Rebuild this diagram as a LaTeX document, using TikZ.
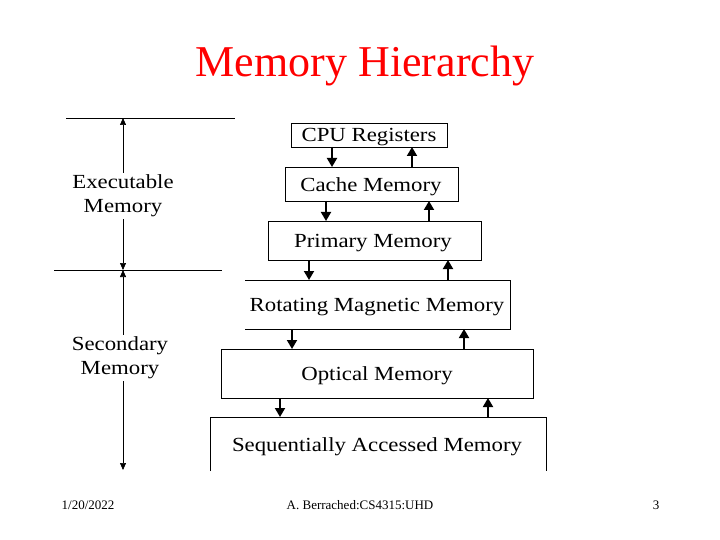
\documentclass[tikz,border=0pt]{standalone}
\usepackage{fontspec}
\setmainfont{Liberation Serif}
\newfontfamily\wideserif[FakeStretch=1.14]{Liberation Serif}
\usetikzlibrary{arrows.meta}
\begin{document}
\begin{tikzpicture}[x=1pt,y=-1pt,
  box/.style={draw,line width=0.8pt},
  lbl/.style={font=\wideserif\fontsize{20}{24}\selectfont,yshift=-2pt},
  flow/.style={-{Triangle[length=9pt,width=10pt]},line width=1.8pt},
  tip/.style={line width=0.6pt,-{Triangle[length=7pt,width=6pt]}},
  foot/.style={font=\fontsize{13}{15}\selectfont}]
\useasboundingbox (0,0) rectangle (720,540);
\node[text=red,font=\fontsize{44}{48}\selectfont] (title) at (365,66) {Memory Hierarchy};
% boxes
\draw[box] (291,123) rectangle (447,147);
\node[lbl] (cpu) at (369,135) {CPU Registers};
\draw[box] (285,167) rectangle (458,201);
\node[lbl] (cache) at (371,185) {Cache Memory};
\draw[box] (268,221) rectangle (481,260);
\node[lbl] (prim) at (373,241) {Primary Memory};
\draw[box] (245,280) -- (510,280) -- (510,329) -- (245,329);
\node[lbl] (rot) at (377,305) {Rotating Magnetic Memory};
\draw[box] (221,349) rectangle (533,398);
\node[lbl] (opt) at (377,374) {Optical Memory};
\draw[box] (210,471) -- (210,417) -- (546,417) -- (546,471);
\node[lbl] (seq) at (377,445) {Sequentially Accessed Memory};
% flows
\coordinate (a1) at (332,147); \coordinate (a2) at (332,167);
\coordinate (b1) at (412,167); \coordinate (b2) at (412,147);
\coordinate (c1) at (326,201); \coordinate (c2) at (326,221);
\coordinate (d1) at (429,221); \coordinate (d2) at (429,201);
\coordinate (e1) at (309,260); \coordinate (e2) at (309,280);
\coordinate (f1) at (448,280); \coordinate (f2) at (448,260);
\coordinate (g1) at (292,329); \coordinate (g2) at (292,349);
\coordinate (h1) at (464,349); \coordinate (h2) at (464,329);
\coordinate (i1) at (280,398); \coordinate (i2) at (280,417);
\coordinate (j1) at (488,417); \coordinate (j2) at (488,398);
\foreach \p in {a,b,c,d,e,f,g,h,i,j} \draw[flow] (\p1) -- (\p2);
% left dimension
\coordinate (l1a) at (66,118); \coordinate (l1b) at (235,118);
\coordinate (l2a) at (54,270); \coordinate (l2b) at (222,270);
\draw[line width=0.6pt] (l1a) -- (l1b);
\draw[line width=0.6pt] (l2a) -- (l2b);
\coordinate (t1) at (123,118); \coordinate (t2) at (123,270); \coordinate (t3) at (123,470);
\node[lbl,fill=white,align=center,inner sep=2pt] (exe) at (123,194) {Executable\\Memory};
\node[lbl,fill=white,align=center,inner sep=2pt] (sec) at (120,356) {Secondary\\Memory};
\draw[tip] (exe.north -| t1) -- (t1);
\draw[tip] (exe.south -| t1) -- (t2);
\draw[tip] (sec.north -| t2) -- (t2);
\draw[tip] (sec.south -| t2) -- (t3);
% footer
\node[foot] (date) at (88,505) {1/20/2022};
\node[foot] (auth) at (360,505) {A. Berrached:CS4315:UHD};
\node[foot] (pg) at (656,505) {3};
\end{tikzpicture}
\end{document}
